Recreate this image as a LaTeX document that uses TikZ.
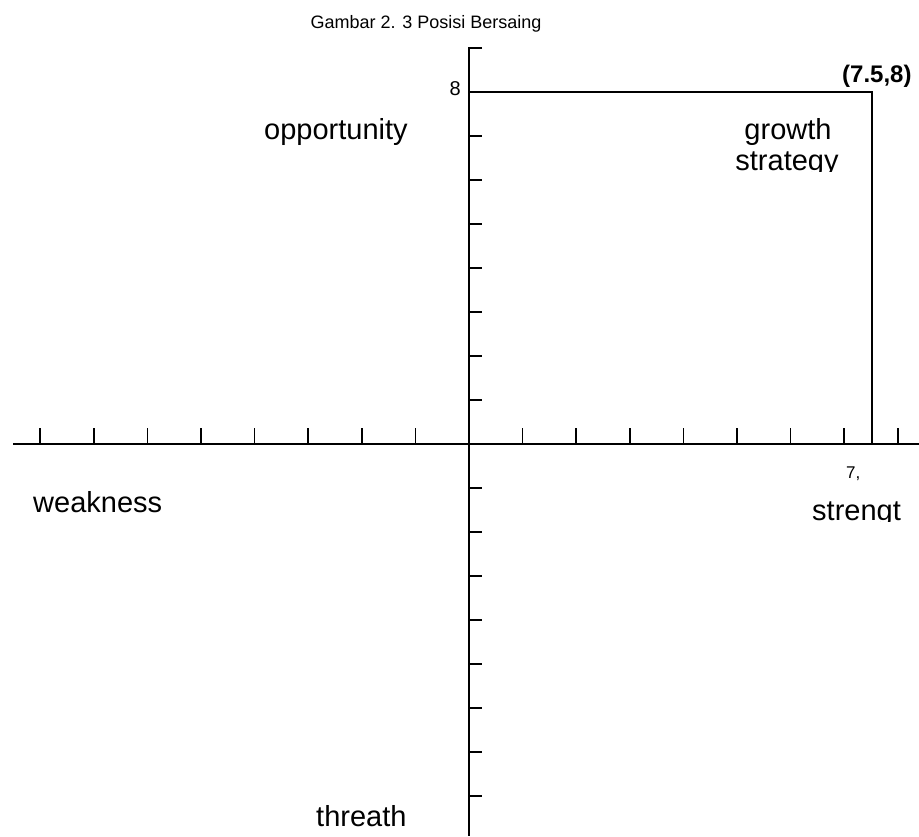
\documentclass[tikz,border=0pt]{standalone}
\usepackage{fontspec}
\setmainfont{Liberation Sans}
\begin{document}
\begin{tikzpicture}[x=1pt,y=-1pt,
  ln/.style={line width=1.6pt, line cap=butt},
  lbl/.style={inner sep=0pt, anchor=base west, font=\fontsize{29}{34}\selectfont},
  small/.style={inner sep=0pt, font=\fontsize{18}{21}\selectfont}]
\useasboundingbox (0,0) rectangle (919,836);
% axes
\coordinate (xl) at (13,444);
\coordinate (xr) at (919,444);
\coordinate (yt) at (469,48);
\coordinate (ytt) at (482,48);
\coordinate (yb) at (469,836);
\coordinate (c8) at (469,92);
\coordinate (p) at (872,92);
\coordinate (px) at (872,444);
\draw[ln] (xl) -- (xr);
\draw[ln] (ytt) -- (yt) -- (yb);
\draw[ln] (c8) -- (p) -- (px);
% x ticks
\foreach \k in {-8,...,-1,1,2,...,8}
  \draw[ln] (469+53.6*\k,444) -- (469+53.6*\k,428);
% y ticks
\foreach \k in {-8,...,-1,1,2,...,7}
  \draw[ln] (469,444-44*\k) -- (482,444-44*\k);
% labels
\node[small, anchor=base] (title) at (426,28) {Gambar 2. 3 Posisi Bersaing};
\node[small, anchor=base east, font=\fontsize{20}{24}\selectfont] (eight) at (461,95) {8};
\node[inner sep=0pt, anchor=base west, font=\fontsize{24}{28}\selectfont\bfseries] (pt) at (842,82) {(7.5,8)};
\node[lbl] (opp) at (264,139) {opportunity};
\node[lbl, anchor=base] (growth) at (788,139) {growth};
\begin{scope}
  \clip (700,100) rectangle (870,171);
  \node[lbl, anchor=base] (strat) at (787,170) {strategy};
\end{scope}
\node[lbl] (weak) at (33,512) {weakness};
\node[small, anchor=base west, font=\fontsize{17}{20}\selectfont] (seven) at (846,478) {7,};
\begin{scope}
  \clip (790,480) rectangle (919,521);
  \node[lbl] (str) at (812,520) {strengt};
\end{scope}
\node[lbl] (thr) at (316,826) {threath};
\end{tikzpicture}
\end{document}
